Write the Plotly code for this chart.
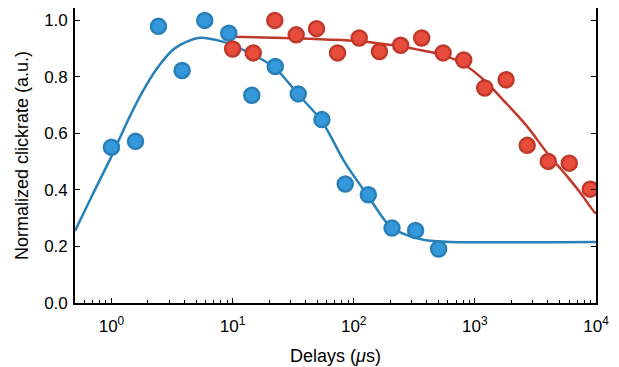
import math
import plotly.graph_objects as go

# ---- data ----
blue_x = [1.0, 1.58, 2.44, 3.83, 5.89, 9.3, 14.4, 22.5, 34.8, 54.6, 85.1, 132, 207, 324, 502]
blue_y = [0.551, 0.572, 0.979, 0.823, 1.0, 0.955, 0.735, 0.837, 0.740, 0.649, 0.421, 0.383, 0.265, 0.257, 0.191]

red_x = [10, 14.8, 22.3, 33.5, 49.3, 73.5, 111, 163, 244, 364, 547, 809, 1206, 1811, 2704, 4035, 6018, 8970]
red_y = [0.899, 0.885, 1.0, 0.949, 0.971, 0.885, 0.938, 0.890, 0.912, 0.938, 0.885, 0.860, 0.761, 0.790, 0.558, 0.501, 0.495, 0.403]

# fit curves
blue_fit_x = [0.5, 0.686, 1.0, 1.377, 1.778, 2.44, 3.35, 5.21, 8.15, 10.5, 15.8, 22.4, 35, 54.6, 85.1, 132, 200, 293, 429, 631, 10000]
blue_fit_y = [0.255, 0.377, 0.519, 0.649, 0.743, 0.837, 0.902, 0.938, 0.926, 0.908, 0.872, 0.832, 0.737, 0.643, 0.495, 0.377, 0.271, 0.236, 0.220, 0.216, 0.216]

red_fit_x = [10, 31.6, 64, 107, 166, 242, 355, 536, 807, 1183, 1786, 2698, 3954, 5781, 7447, 9594, 10000]
red_fit_y = [0.942, 0.937, 0.932, 0.927, 0.918, 0.909, 0.895, 0.879, 0.845, 0.790, 0.710, 0.625, 0.531, 0.448, 0.389, 0.324, 0.316]

x_tick_vals = [1, 10, 100, 1000, 10000]
x_tick_text = ["10<sup>0</sup>", "10<sup>1</sup>", "10<sup>2</sup>", "10<sup>3</sup>", "10<sup>4</sup>"]
y_tick_vals = [0.0, 0.2, 0.4, 0.6, 0.8, 1.0]

BLUE_FILL, BLUE_EDGE = "#3498db", "#2980b9"
RED_FILL, RED_EDGE = "#e74c3c", "#c0392b"
FONT = "Liberation Sans, Arial, sans-serif"

fig = go.Figure()
fig.add_trace(go.Scatter(x=blue_fit_x, y=blue_fit_y, mode="lines",
                         line=dict(color=BLUE_EDGE, width=2.5, shape="spline", smoothing=0.8),
                         showlegend=False, hoverinfo="skip"))
fig.add_trace(go.Scatter(x=red_fit_x, y=red_fit_y, mode="lines",
                         line=dict(color=RED_EDGE, width=2.5, shape="spline", smoothing=0.8),
                         showlegend=False, hoverinfo="skip"))
fig.add_trace(go.Scatter(x=blue_x, y=blue_y, mode="markers",
                         marker=dict(size=15, color=BLUE_FILL, line=dict(color=BLUE_EDGE, width=2.5)),
                         showlegend=False))
fig.add_trace(go.Scatter(x=red_x, y=red_y, mode="markers",
                         marker=dict(size=15, color=RED_FILL, line=dict(color=RED_EDGE, width=2.5)),
                         showlegend=False))

axis_common = dict(showline=True, linecolor="black", linewidth=1.6, showgrid=False,
                   zeroline=False, ticks="inside", tickcolor="black", tickwidth=1.3,
                   automargin=False,
                   tickfont=dict(family=FONT, size=17, color="black"))

# page body has an 8px margin, so the figure is 8px smaller on each side
fig.update_layout(
    width=611, height=359,
    margin=dict(l=67, r=23, t=0, b=64),
    paper_bgcolor="white", plot_bgcolor="white",
    font=dict(family=FONT, color="black"),
    xaxis=dict(type="log", range=[math.log10(0.5), 4], tickmode="array",
               tickvals=x_tick_vals, ticktext=x_tick_text, ticklen=5,
               mirror=True, ticklabelstandoff=7,
               minor=dict(ticks="inside", dtick="D1", ticklen=3, tickwidth=1, tickcolor="black", showgrid=False),
               title=dict(text="Delays (<i>μ</i>s)", font=dict(family=FONT, size=18), standoff=14),
               **axis_common),
    xaxis2=dict(type="log", range=[math.log10(0.5), 4], overlaying="x", side="top", anchor="y",
                tickmode="array", tickvals=x_tick_vals, showticklabels=False, automargin=False,
                showline=False, showgrid=False, zeroline=False, ticks="inside", ticklen=5,
                tickwidth=1.3, tickcolor="black", matches="x"),
    yaxis=dict(range=[0, 1.044], tickmode="array", tickvals=y_tick_vals, tickformat=".1f",
               ticklen=5, mirror="ticks", ticklabelstandoff=2,
               title=dict(text="Normalized clickrate (a.u.)", font=dict(family=FONT, size=18), standoff=11),
               **axis_common),
)

fig.write_html("out.html")
